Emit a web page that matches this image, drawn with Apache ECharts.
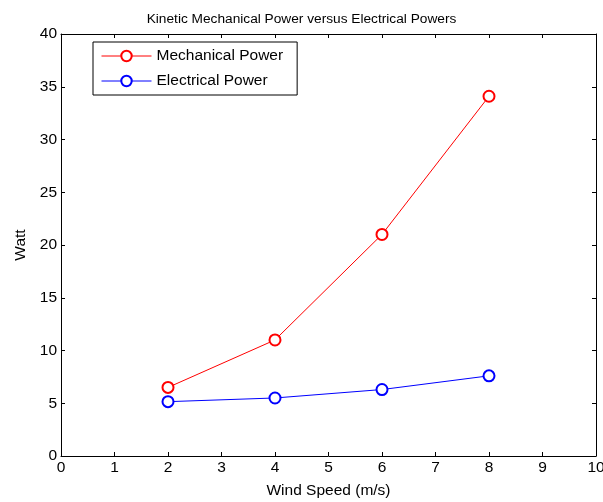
<!DOCTYPE html>
<html><head><meta charset="utf-8">
<script src="https://cdn.jsdelivr.net/npm/echarts@6/dist/echarts.min.js"></script>
<style>html,body{margin:0;padding:0;background:#fff}#c{width:603px;height:502px}</style>
</head><body><div id="c"></div>
<script>
var windSpeed = [2, 4, 6, 8];
var mechanicalPower = [6.5, 11.0, 21.0, 34.1];
var electricalPower = [5.15, 5.5, 6.3, 7.6];
var xTicks = [0,1,2,3,4,5,6,7,8,9,10];
var yTicks = [0,5,10,15,20,25,30,35,40];

var chart = echarts.init(document.getElementById('c'));
var font = 'Liberation Sans, Arial, sans-serif';
function pairs(xs, ys){ return xs.map(function(x,i){return [x, ys[i]];}); }
function axLine(){ return {show:true, onZero:false, lineStyle:{color:'#000', width:1}}; }
function tk(){ return {show:true, inside:true, length:4, lineStyle:{color:'#000'}}; }
chart.setOption({
  animation:false,
  backgroundColor:'#fff',
  title:{text:'Kinetic Mechanical Power versus Electrical Powers', left:'center', top:7,
    textStyle:{fontFamily:font, fontSize:13.7, fontWeight:'normal', color:'#000'}},
  grid:{left:61, right:7, top:34, bottom:46, outerBoundsMode:'none', containLabel:false},
  legend:{orient:'vertical', left:93, top:42, itemWidth:50, itemHeight:13, itemGap:9,
    padding:[6,14,6,8], borderColor:'#000', borderWidth:1, backgroundColor:'#fff',
    lineStyle:{width:1}, itemStyle:{borderWidth:1},
    textStyle:{fontFamily:font, fontSize:15.5, color:'#000'},
    data:['Mechanical Power','Electrical Power']},
  xAxis:[
    {type:'value', min:xTicks[0], max:xTicks[xTicks.length-1], interval:1, position:'bottom',
     name:'Wind Speed (m/s)', nameLocation:'middle', nameGap:27,
     nameTextStyle:{fontFamily:font, fontSize:15.5, color:'#000'},
     axisLine:axLine(), axisTick:tk(), splitLine:{show:false},
     axisLabel:{fontFamily:font, fontSize:15.5, color:'#000', margin:4}},
    {type:'value', min:xTicks[0], max:xTicks[xTicks.length-1], interval:1, position:'top',
     axisLine:axLine(), axisTick:tk(), splitLine:{show:false}, axisLabel:{show:false}}
  ],
  yAxis:[
    {type:'value', min:yTicks[0], max:yTicks[yTicks.length-1], interval:5, position:'left',
     name:'Watt', nameLocation:'middle', nameGap:31,
     nameTextStyle:{fontFamily:font, fontSize:15.5, color:'#000'},
     axisLine:axLine(), axisTick:tk(), splitLine:{show:false},
     axisLabel:{fontFamily:font, fontSize:15.5, color:'#000', margin:4}},
    {type:'value', min:yTicks[0], max:yTicks[yTicks.length-1], interval:5, position:'right',
     axisLine:axLine(), axisTick:tk(), splitLine:{show:false}, axisLabel:{show:false}}
  ],
  series:[
    {name:'Mechanical Power', type:'line', data:pairs(windSpeed, mechanicalPower),
     symbol:'emptyCircle', symbolSize:11, color:'#ff0000',
     lineStyle:{width:1, color:'#ff0000'}, itemStyle:{color:'#ff0000', borderWidth:1}},
    {name:'Electrical Power', type:'line', data:pairs(windSpeed, electricalPower),
     symbol:'emptyCircle', symbolSize:11, color:'#0000ff',
     lineStyle:{width:1, color:'#0000ff'}, itemStyle:{color:'#0000ff', borderWidth:1}}
  ]
});
</script></body></html>
